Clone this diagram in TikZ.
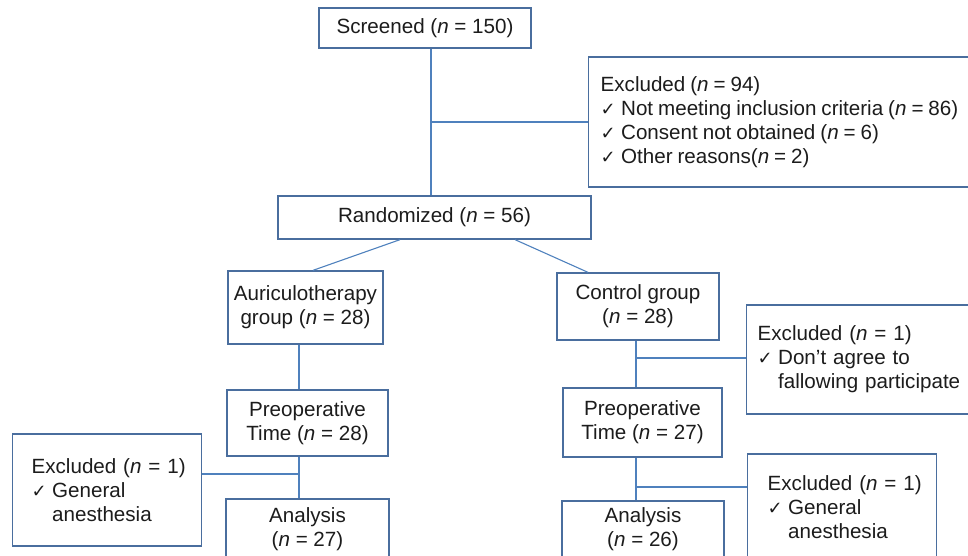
\documentclass[tikz,border=0pt]{standalone}
\usepackage{fontspec}
\setmainfont{Liberation Sans}
\newfontfamily\symfont{DejaVu Sans}
\newcommand{\ck}{\makebox[20.5pt][l]{\symfont\fontsize{18}{24}\selectfont ✓}}
\newcommand{\nn}{\textit{n}}
\definecolor{boxc}{HTML}{4A6E9E}
\definecolor{linec}{HTML}{4F81BD}
\definecolor{txtc}{HTML}{1C1C1C}
\hbadness=10000 \hfuzz=50pt
\begin{document}
\begin{tikzpicture}[x=1pt,y=-1pt,
  box/.style={draw=boxc, line width=1.3pt, fill=white, inner sep=0pt,
    font=\fontsize{20.6}{24}\selectfont, text=txtc, align=center},
  lbox/.style={box, align=left, anchor=west},
  conn/.style={draw=linec, line width=1.1pt}]
\useasboundingbox (0,0) rectangle (968,556);
\clip (0,0) rectangle (968,556);

\node[box, minimum width=212pt, minimum height=40pt] (scr) at (425,28) {Screened (\nn{} = 150)};
\node[lbox, inner xsep=12pt, text width=388pt, minimum height=130pt] (ex1) at (588,122)
  {\spaceskip=0.24em\relax\mbox{Excluded (\nn{} = 94)}\\ \mbox{\ck Not meeting inclusion criteria (\nn{} = 86)}\\ \mbox{\ck Consent not obtained (\nn{} = 6)}\\ \mbox{\ck Other reasons(\nn{} = 2)}};
\node[box, minimum width=313pt, minimum height=43pt] (rnd) at (434.5,217.5) {Randomized (\nn{} = 56)};
\node[box, minimum width=155pt, minimum height=73pt] (aur) at (305.5,307.5) {Auriculotherapy\\group (\nn{} = 28)};
\node[box, minimum width=162pt, minimum height=67pt] (ctl) at (638,306.5) {Control group\\(\nn{} = 28)};
\node[lbox, inner xsep=11pt, text width=232pt, minimum height=109pt] (ex2) at (746,359.5)
  {\mbox{Excluded (\nn{} = 1)}\\ \mbox{\ck Don’t agree to}\\ \mbox{\hspace*{20.5pt}fallowing participate}};
\node[box, minimum width=161pt, minimum height=66pt] (preL) at (307.5,423) {Preoperative\\Time (\nn{} = 28)};
\node[box, minimum width=159pt, minimum height=69pt] (preR) at (642.5,422.5) {Preoperative\\Time (\nn{} = 27)};
\node[lbox, inner xsep=19pt, text width=151pt, minimum height=112pt] (exL) at (12,490)
  {\mbox{Excluded (\nn{} = 1)}\\ \mbox{\ck General}\\ \mbox{\hspace*{20.5pt}anesthesia}};
\node[lbox, inner xsep=20pt, text width=149pt, minimum height=106pt] (ex3) at (747,507)
  {\mbox{Excluded (\nn{} = 1)}\\ \mbox{\ck General}\\ \mbox{\hspace*{20.5pt}anesthesia}};
\node[box, minimum width=163pt, minimum height=60pt] (anaL) at (307.5,529) {Analysis\\(\nn{} = 27)};
\node[box, minimum width=162pt, minimum height=56pt] (anaR) at (643,529) {Analysis\\(\nn{} = 26)};

\coordinate (j1) at (431,122);
\coordinate (j2) at (636,358);
\coordinate (j3) at (299,474);
\coordinate (j4) at (636,487);

\draw[conn] (431,0 |- scr.south) -- (431,0 |- rnd.north);
\draw[conn] (j1) -- (j1 -| ex1.west);
\draw[conn] (400,0 |- rnd.south) -- (313,0 |- aur.north);
\draw[conn] (515,0 |- rnd.south) -- (588,0 |- ctl.north);
\draw[conn] (299,0 |- aur.south) -- (299,0 |- preL.north);
\draw[conn] (636,0 |- ctl.south) -- (636,0 |- preR.north);
\draw[conn] (j2) -- (j2 -| ex2.west);
\draw[conn] (299,0 |- preL.south) -- (299,0 |- anaL.north);
\draw[conn] (j3) -- (j3 -| exL.east);
\draw[conn] (636,0 |- preR.south) -- (636,0 |- anaR.north);
\draw[conn] (j4) -- (j4 -| ex3.west);
\end{tikzpicture}
\end{document}
